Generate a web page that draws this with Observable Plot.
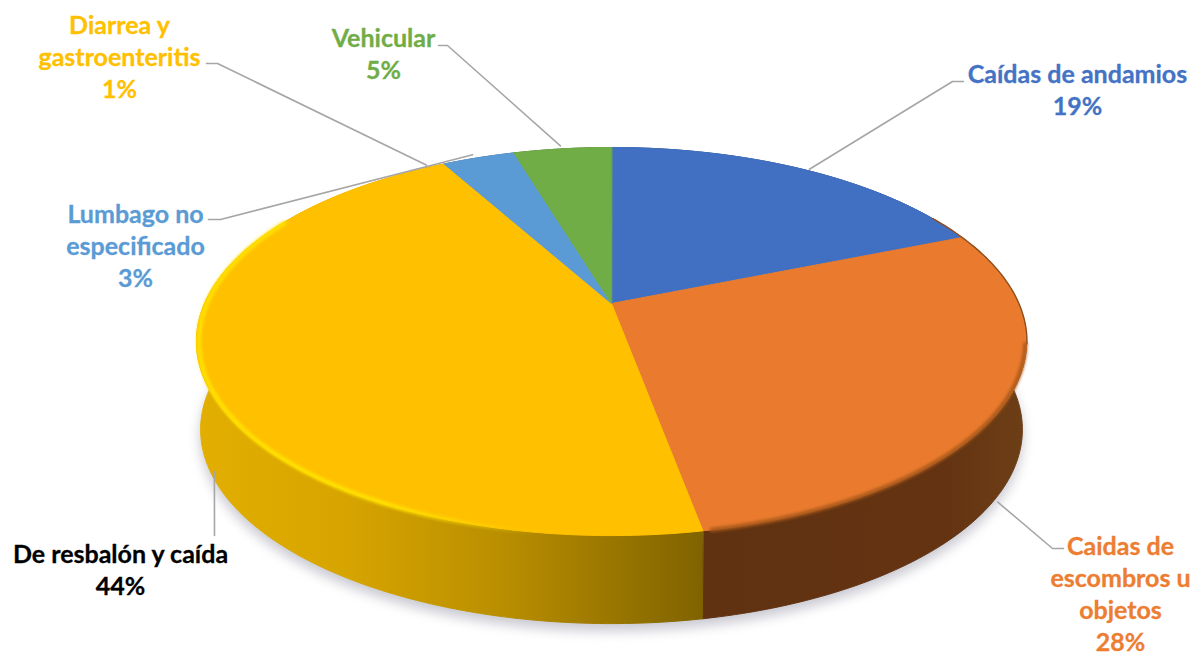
<!DOCTYPE html>
<html>
<head>
<meta charset="utf-8">
<script src="https://cdn.jsdelivr.net/npm/d3@7"></script>
<script src="https://cdn.jsdelivr.net/npm/@observablehq/plot@0.6"></script>
<style>
  html, body { margin: 0; padding: 0; background: #fff; }
  svg { display: block; }
</style>
</head>
<body>
<div id="chart"></div>
<script>
// ---- data ----
const categories = ["Caídas de andamios", "Caidas de escombros u objetos", "De resbalón y caída",
                    "Diarrea y gastroenteritis", "Lumbago no especificado", "Vehicular"];
const shares = [18.8, 28.3, 43.9, 1, 3.4, 4.6];
const labelLines = [
  "Caídas de andamios\n19%",
  "Caidas de\nescombros u\nobjetos\n28%",
  "De resbalón y caída\n44%",
  "Diarrea y\ngastroenteritis\n1%",
  "Lumbago no\nespecificado\n3%",
  "Vehicular\n5%"
];

// ---- styles and layout (separate from the data) ----
const sliceColors = ["#4170c2", "#ea7b2e", "#ffc000", "#ffc000", "#5b9bd5", "#70ad47"];
const labelColors = ["#4472c4", "#ed7d31", "#000000", "#ffc000", "#5b9bd5", "#70ad47"];
const labelPos = [[1077, 88], [1120, 592], [120, 568], [119, 55], [135, 244], [383, 52]];
const leaderEnd = [[[952, 81], [963, 81]], [[1052, 548], [1063, 548]], [[214, 535]],
                   [[217, 63], [206, 63]], [[220, 219], [208, 219]], [[447, 45], [438, 45]]];
const leaderNudge = [[3, -1], [-8, 100], [11, 95], [-8, -1], [-6, -3], [-2, -3]];

// pie geometry: a tilted circle in perspective
const CX = 611, CY = 303, RX = 407, RY = 186.6, K = 0.196, DEPTH = 88, BOTTOM_SCALE = 0.99;
const rim = (deg, s = 1, dy = 0, dx = 0) => {
  const a = deg * Math.PI / 180, u = Math.sin(a), v = -Math.cos(a), w = 1 - K * v;
  return {x: CX + dx + s * RX * u / w, y: CY + dy + RY * v / w};
};
const arc = (a0, a1, s = 1, dy = 0) => {
  const n = Math.max(2, Math.ceil(Math.abs(a1 - a0)));
  return d3.range(n + 1).map(i => rim(a0 + (a1 - a0) * i / n, s, dy));
};

const total = d3.sum(shares);
let acc = 0;
const slices = shares.map((p, i) => {
  const a0 = acc / total * 360; acc += p; const a1 = acc / total * 360;
  return {i, a0, a1, mid: (a0 + a1) / 2};
});

const face = s => [{x: CX, y: CY}, ...arc(s.a0, s.a1)];
const wall = s => [...arc(s.a0, s.a1), ...arc(s.a1, s.a0, BOTTOM_SCALE, DEPTH)];
const polygon = (pts, fill, extra = {}) =>
  Plot.line(pts, {x: "x", y: "y", curve: "linear-closed", fill, stroke: fill, strokeWidth: 1, ...extra});

const defs = () => {
  const d = d3.create("svg:defs");
  const grad = (id, x1, x2, stops) => {
    const g = d.append("linearGradient").attr("id", id).attr("gradientUnits", "userSpaceOnUse")
      .attr("x1", x1).attr("x2", x2).attr("y1", 0).attr("y2", 0);
    stops.forEach(([o, c, a = 1]) => g.append("stop").attr("offset", o).attr("stop-color", c).attr("stop-opacity", a));
  };
  grad("wallGold", 200, 703, [[0, "#e2ae00"], [0.3, "#d6a400"], [0.6, "#b98e00"], [0.85, "#957300"], [1, "#7f6300"]]);
  grad("wallOrange", 703, 1025, [[0, "#603211"], [0.75, "#643312"], [1, "#6d3f16"]]);
  grad("rimGlow", 196, 540, [[0, "#ffe100"], [0.55, "#ffe100"], [1, "#ffe100", 0]]);
  return d.node();
};

const wallFills = {0: "#2c4a80", 1: "url(#wallOrange)", 2: "url(#wallGold)", 3: "#7f6300", 4: "#3c668c", 5: "#4a722f"};
const soft = "blur(0.5px)";

const marks = [
  defs,
  // soft shadow
  polygon(arc(0, 360, BOTTOM_SCALE, DEPTH + 7), "#c9c9d2", {imageFilter: "blur(6px)"}),
  ...slices.map(s => polygon(wall(s), wallFills[s.i], {imageFilter: soft})),
  ...slices.map(s => polygon(face(s), sliceColors[s.i], {imageFilter: soft})),
  // bevel along the rim
  Plot.line(arc(185, 298, 0.994), {x: "x", y: "y", stroke: "url(#rimGlow)", strokeWidth: 4.5, imageFilter: "blur(1.8px)"}),
  Plot.line(arc(102, 168.5, 0.997), {x: "x", y: "y", stroke: "#a9591b", strokeWidth: 4, imageFilter: "blur(1.8px)"}),
  Plot.line(arc(60, 102, 1.001), {x: "x", y: "y", stroke: "#8f4f1c", strokeWidth: 1.4, imageFilter: "blur(0.7px)"}),
  // leader lines start at each slice's rim
  ...slices.map(s => {
    const [dx, dy] = leaderNudge[s.i];
    const start = rim(s.mid, 1, dy, dx);
    const pts = [start, ...leaderEnd[s.i].map(([x, y]) => ({x, y}))];
    return Plot.line(pts, {x: "x", y: "y", stroke: "#a6a6a6", strokeWidth: 1.6});
  }),
  // labels
  ...slices.map(s => Plot.text([labelLines[s.i]], {
    x: labelPos[s.i][0], y: labelPos[s.i][1], text: d => d,
    fill: labelColors[s.i], stroke: labelColors[s.i], strokeWidth: 0.3,
    fontSize: 25, fontWeight: 700, lineHeight: 1.28,
    fontFamily: "Lato", textAnchor: "middle", lineAnchor: "middle"
  }))
];

const chart = Plot.plot({
  width: 1196, height: 656, margin: 0,
  x: {domain: [0, 1196], range: [0, 1196], axis: null},
  y: {domain: [0, 656], range: [0, 656], axis: null},
  style: {background: "#fff", fontFamily: "Lato"},
  marks
});
document.getElementById("chart").append(chart);
</script>
</body>
</html>
